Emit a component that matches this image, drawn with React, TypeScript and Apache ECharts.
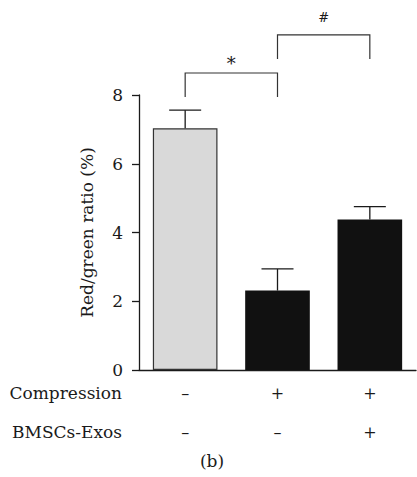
import React, { useEffect, useRef } from "react";
import * as echarts from "echarts";

const categories = ["Control", "Compression", "Compression + BMSCs-Exos"];
const compressionRow = ["–", "+", "+"];
const exosRow = ["–", "–", "+"];
const meanValues = [7.03, 2.31, 4.38];
const upperErrors = [0.53, 0.63, 0.37];
const barColors = ["#d9d9d9", "#111111", "#111111"];
const yTicks = [0, 2, 4, 6, 8];
// significance brackets: [fromIndex, toIndex, legBottomValue, topValue]
const bracketSpans = [
  [0, 1, 7.94, 8.64],
  [1, 2, 9.05, 9.75],
];
const bracketLabels = ["*", "#"];
const rowLabels = ["Compression", "BMSCs-Exos"];
const panelLabel = "(b)";

const FONT = "DejaVu Serif";
const INK = "#1a1a1a";

export default function App() {
  const ref = useRef<HTMLDivElement>(null);
  useEffect(() => {
    if (!ref.current) return;
    const chart = echarts.init(ref.current, undefined, { renderer: "svg" });
    const errorData = meanValues.map((m, i) => [i, m, m + upperErrors[i]]);
    const bracketData = bracketSpans.map((b, i) => [...b, i]);
    chart.setOption({
      animation: false,
      backgroundColor: "#ffffff",
      grid: { left: 139, right: 1, top: 95, bottom: 107, containLabel: false },
      xAxis: {
        type: "category",
        data: categories,
        axisLine: { lineStyle: { color: INK, width: 1.3 } },
        axisTick: { alignWithLabel: true, length: 5, lineStyle: { color: INK, width: 1.3 } },
        axisLabel: {
          interval: 0,
          margin: 4,
          fontFamily: FONT,
          fontSize: 16,
          color: INK,
          lineHeight: 39,
          formatter: (_v: string, idx: number) => `${compressionRow[idx]}\n${exosRow[idx]}`,
        },
      },
      yAxis: {
        type: "value",
        min: 0,
        max: 8,
        interval: 2,
        name: "Red/green ratio (%)",
        nameLocation: "middle",
        nameGap: 44,
        nameTextStyle: { fontFamily: FONT, fontSize: 17, color: INK },
        axisLine: { show: true, lineStyle: { color: INK, width: 1.3 } },
        axisTick: { show: true, length: 7, lineStyle: { color: INK, width: 1.3 } },
        axisLabel: {
          margin: 16,
          fontFamily: FONT,
          fontSize: 17,
          color: INK,
          formatter: (v: number) => (yTicks.includes(v) ? String(v) : ""),
        },
        splitLine: { show: false },
      },
      series: [
        {
          type: "bar",
          barWidth: "70%",
          data: meanValues.map((v, i) => ({
            value: v,
            itemStyle: {
              color: barColors[i],
              borderColor: i === 0 ? "#333" : barColors[i],
              borderWidth: i === 0 ? 1.2 : 0,
            },
          })),
          z: 2,
        },
        {
          type: "custom",
          clip: false,
          z: 3,
          data: errorData,
          renderItem: (_params: any, api: any) => {
            const idx = api.value(0);
            const base = api.coord([idx, api.value(1)]);
            const top = api.coord([idx, api.value(2)]);
            const cap = 16;
            const st = { stroke: INK, lineWidth: 1.3 };
            return {
              type: "group",
              children: [
                { type: "line", shape: { x1: base[0], y1: base[1], x2: top[0], y2: top[1] }, style: st },
                { type: "line", shape: { x1: top[0] - cap, y1: top[1], x2: top[0] + cap, y2: top[1] }, style: st },
              ],
            };
          },
        },
        {
          type: "custom",
          clip: false,
          z: 3,
          data: bracketData,
          renderItem: (_params: any, api: any) => {
            const a = api.value(0);
            const b = api.value(1);
            const leg = api.value(2);
            const topV = api.value(3);
            const li = api.value(4);
            const p1 = api.coord([a, leg]);
            const p2 = api.coord([a, topV]);
            const p3 = api.coord([b, topV]);
            const p4 = api.coord([b, leg]);
            return {
              type: "group",
              children: [
                {
                  type: "polyline",
                  shape: { points: [p1, p2, p3, p4] },
                  style: { stroke: "#333", lineWidth: 1.2, fill: "none" },
                },
                {
                  type: "text",
                  style: {
                    x: (p2[0] + p3[0]) / 2,
                    y: p2[1] - (li === 0 ? 1 : 11),
                    text: bracketLabels[li],
                    fontFamily: FONT,
                    fontSize: li === 0 ? 18 : 13,
                    fill: INK,
                    align: "center",
                    verticalAlign: "bottom",
                  },
                },
              ],
            };
          },
        },
      ],
      graphic: [
        {
          type: "text",
          x: 122,
          y: 393,
          style: { text: rowLabels[0], fontFamily: FONT, fontSize: 17, fill: INK, align: "right", verticalAlign: "middle" },
        },
        {
          type: "text",
          x: 122,
          y: 432,
          style: { text: rowLabels[1], fontFamily: FONT, fontSize: 17, fill: INK, align: "right", verticalAlign: "middle" },
        },
        {
          type: "text",
          x: 212,
          y: 461,
          style: { text: panelLabel, fontFamily: FONT, fontSize: 17, fill: INK, align: "center", verticalAlign: "middle" },
        },
      ],
    });
    return () => chart.dispose();
  }, []);
  return <div ref={ref} style={{ width: 417, height: 477, position: "absolute", left: 0, top: 0 }} />;
}
